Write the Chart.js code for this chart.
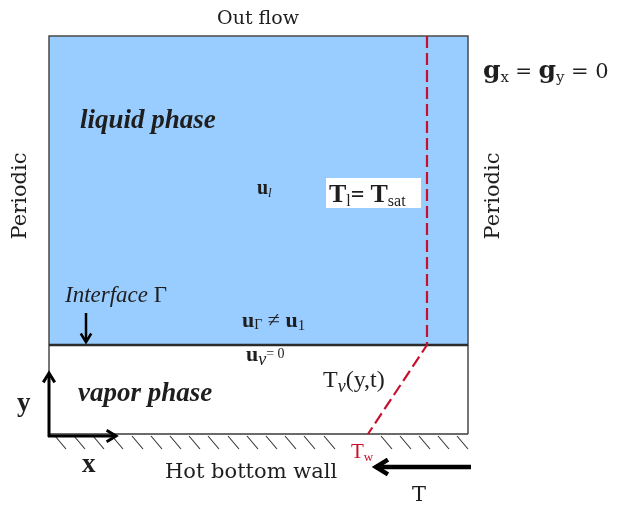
<!DOCTYPE html>
<html>
<head>
<meta charset="utf-8">
<script src="https://cdn.jsdelivr.net/npm/chart.js@4.4.1/dist/chart.umd.min.js"></script>
<style>
  html, body { margin: 0; padding: 0; background: #ffffff; }
  #wrap { width: 617px; height: 505px; }
</style>
</head>
<body>
<div id="wrap"><canvas id="chart" width="617" height="505"></canvas></div>
<script>
// coordinates of the sketch, in picture units (x to the right, y down)
const liquidTop = [[49, 36], [468, 36]];
const interfaceLevel = 345;
const domainWalls = [[49, 434], [49, 36], [468, 36], [468, 434]];
const interfaceLine = [[49, 345], [468, 345]];
const bottomWall = [[49, 434], [468, 434]];
const tempProfile = [[427, 36], [427, 345], [368, 434]];
const hatchX = [55, 74, 93, 112, 132, 151, 170, 189, 208, 228, 247, 266, 285, 304, 324, 381, 400, 419, 438, 457];
const yAxisArrow = [[49, 437], [49, 373]];
const xAxisArrow = [[48, 436], [116, 436]];
const interfaceArrow = [[86, 313], [86, 342]];
const heatArrow = [[471, 467], [376, 467]];

const pts = arr => arr.map(([x, y]) => ({ x: x, y: y }));

// hatching under the wall: short slanted strokes, broken with null gaps
const hatchData = [];
hatchX.forEach(x => {
    hatchData.push({ x: x, y: 436 }, { x: x + 11, y: 449 }, { x: x, y: null });
});

const CAM = '"DejaVu Serif"';
const TNR = '"Liberation Serif"';
const INK = '#1e1e1e';
const RED = '#c8102e';

// text labels made of runs: [text, font, dy, color]
const textLabels = [
    { x: 258, y: 24, align: 'center', runs: [['Out flow', '19px ' + CAM]] },
    { x: 483, y: 78, runs: [['g', 'bold 25px ' + CAM], ['x', '15px ' + CAM, 4], [' = ', '20px ' + CAM],
        ['g', 'bold 25px ' + CAM], ['y', '15px ' + CAM, 4], [' = 0', '21px ' + CAM]] },
    { x: 19, y: 196, rot: -Math.PI / 2, align: 'center', runs: [['Periodic', '21px ' + CAM]] },
    { x: 492, y: 196, rot: -Math.PI / 2, align: 'center', runs: [['Periodic', '21px ' + CAM]] },
    { x: 80, y: 128, runs: [['liquid phase', 'italic bold 27px ' + TNR]] },
    { x: 257, y: 194, runs: [['u', 'bold 20px ' + TNR], ['l', 'italic 13px ' + TNR, 3]] },
    { x: 329, y: 202, runs: [['T', 'bold 26px ' + TNR], ['l', '16px ' + TNR, 4], ['= ', 'bold 24px ' + TNR],
        ['T', 'bold 26px ' + TNR], ['sat', '16px ' + TNR, 4]] },
    { x: 65, y: 302, runs: [['Interface ', 'italic 23px ' + TNR], ['Γ', '23px ' + TNR]] },
    { x: 242, y: 327, runs: [['u', 'bold 22px ' + TNR], ['Γ', '14px ' + TNR, 2], [' ≠ ', '22px ' + TNR],
        ['u', 'bold 22px ' + TNR], ['1', '15px ' + TNR, 3]] },
    { x: 246, y: 361, runs: [['u', 'bold 22px ' + TNR], ['v', 'italic 18px ' + TNR, 4], ['= 0', '14px ' + TNR, -3]] },
    { x: 323, y: 387, runs: [['T', '24px ' + TNR], ['v', 'italic 18px ' + TNR, 5], ['(y,t)', '24px ' + TNR]] },
    { x: 78, y: 401, runs: [['vapor phase', 'italic bold 27px ' + TNR]] },
    { x: 17, y: 411, runs: [['y', 'bold 27px ' + TNR]] },
    { x: 82, y: 472, runs: [['x', 'bold 27px ' + TNR]] },
    { x: 351, y: 458, runs: [['T', '21px ' + TNR, 0, RED], ['w', '13px ' + TNR, 3, RED]] },
    { x: 165, y: 478, runs: [['Hot bottom wall', '21px ' + CAM]] },
    { x: 412, y: 501, runs: [['T', '21px ' + CAM]] }
];

const whiteBoxes = [[326, 178, 421, 208]];
const arrowHeads = [
    { line: yAxisArrow, size: 11, width: 3 },
    { line: xAxisArrow, size: 11, width: 3 },
    { line: interfaceArrow, size: 10, width: 2.5 },
    { line: heatArrow, size: 14, width: 4.5 }
];

function lineSet(data, color, width, extra) {
    return Object.assign({
        data: pts(data), borderColor: color, borderWidth: width,
        pointRadius: 0, tension: 0, fill: false
    }, extra || {});
}

// boxes, labels and arrow heads drawn on top of the datasets
const sketchPlugin = {
    id: 'sketch',
    afterDatasetsDraw(chart) {
        const ctx = chart.ctx;
        const sx = chart.scales.x, sy = chart.scales.y;
        const px = v => sx.getPixelForValue(v);
        const py = v => sy.getPixelForValue(v);
        ctx.save();

        whiteBoxes.forEach(([x0, y0, x1, y1]) => {
            ctx.fillStyle = '#ffffff';
            ctx.fillRect(px(x0), py(y0), px(x1) - px(x0), py(y1) - py(y0));
        });

        arrowHeads.forEach(a => {
            const [p0, p1] = a.line;
            const x0 = px(p0[0]), y0 = py(p0[1]), x1 = px(p1[0]), y1 = py(p1[1]);
            const ang = Math.atan2(y1 - y0, x1 - x0);
            ctx.strokeStyle = '#000000';
            ctx.lineWidth = a.width;
            ctx.lineJoin = 'miter';
            ctx.lineCap = 'butt';
            ctx.beginPath();
            ctx.moveTo(x1 - a.size * Math.cos(ang - 0.55), y1 - a.size * Math.sin(ang - 0.55));
            ctx.lineTo(x1, y1);
            ctx.lineTo(x1 - a.size * Math.cos(ang + 0.55), y1 - a.size * Math.sin(ang + 0.55));
            ctx.stroke();
        });

        ctx.textBaseline = 'alphabetic';
        ctx.textAlign = 'left';
        textLabels.forEach(lab => {
            let total = 0;
            lab.runs.forEach(r => { ctx.font = r[1]; total += ctx.measureText(r[0]).width; });
            ctx.save();
            ctx.translate(px(lab.x), py(lab.y));
            if (lab.rot) ctx.rotate(lab.rot);
            let cx = lab.align === 'center' ? -total / 2 : 0;
            const dyc = lab.rot ? 7 : 0;
            lab.runs.forEach(r => {
                ctx.font = r[1];
                ctx.fillStyle = r[3] || INK;
                ctx.fillText(r[0], cx, (r[2] || 0) + dyc);
                cx += ctx.measureText(r[0]).width;
            });
            ctx.restore();
        });
        ctx.restore();
    }
};

new Chart(document.getElementById('chart'), {
    type: 'line',
    data: {
        datasets: [
            lineSet(tempProfile, RED, 2.2, { borderDash: [12, 5] }),
            lineSet(heatArrow, '#000000', 4.5),
            lineSet(interfaceArrow, '#000000', 2.5),
            lineSet(xAxisArrow, '#000000', 3),
            lineSet(yAxisArrow, '#000000', 3),
            lineSet(interfaceLine, '#2b2b2b', 2.5),
            lineSet(bottomWall, '#3a3a3a', 1.5),
            lineSet(domainWalls, '#4a4a4a', 1.5),
            lineSet([], '#333333', 1.1, { data: hatchData, spanGaps: false }),
            lineSet(liquidTop, 'rgba(0,0,0,0)', 0, { fill: { value: interfaceLevel }, backgroundColor: '#99ccff' })
        ]
    },
    options: {
        responsive: false,
        animation: false,
        layout: { padding: 0 },
        scales: {
            x: { type: 'linear', min: 0, max: 617, display: false },
            y: { type: 'linear', min: 0, max: 505, reverse: true, display: false }
        },
        plugins: { legend: { display: false }, tooltip: { enabled: false } }
    },
    plugins: [sketchPlugin]
});
</script>
</body>
</html>
